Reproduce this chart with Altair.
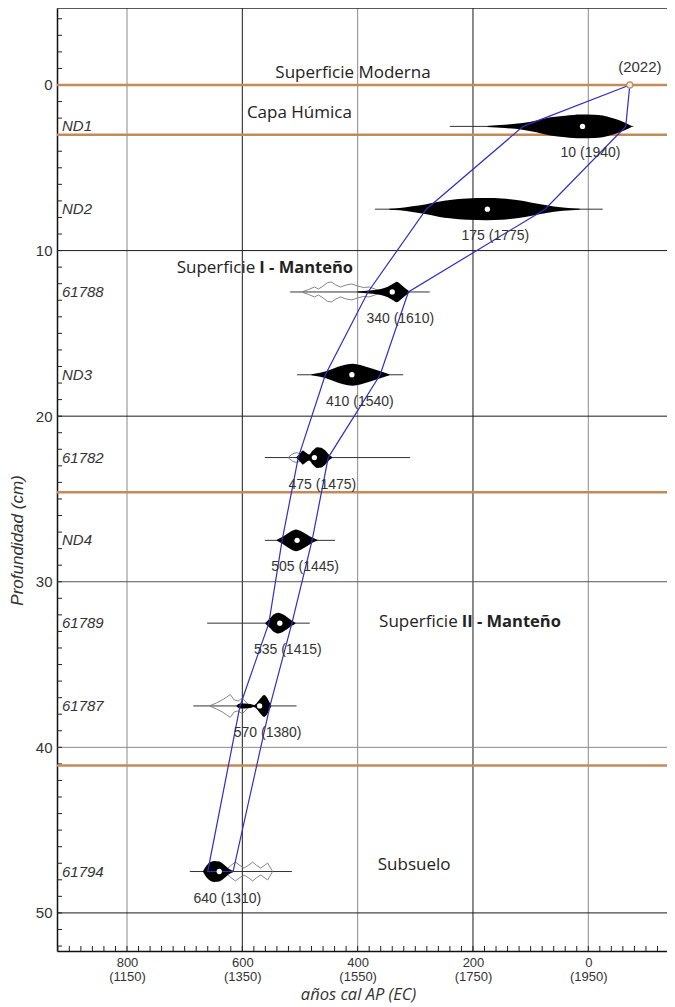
import altair as alt
import pandas as pd

# ---------------- data ----------------
samples = ["ND1", "ND2", "61788", "ND3", "61782", "ND4", "61789", "61787", "61794"]
depths = [2.5, 7.5, 12.5, 17.5, 22.5, 27.5, 32.5, 37.5, 47.5]
medians = [10, 175, 340, 410, 475, 505, 535, 570, 640]
range_lo = [240, 370, 517, 505, 561, 561, 661, 685, 691]
range_hi = [-78, -25, 275, 321, 309, 439, 483, 506, 514]

# posterior (black) distributions: ages (cal BP) and half-heights (cm)
post_ages = {
    "ND1": [175, 145, 114, 90, 66, 40, 12, -10, -25, -40, -55, -65, -75],
    "ND2": [345, 327, 305, 283, 260, 240, 210, 176, 150, 124, 100, 75, 44, 15],
    "61788": [400, 380, 360, 347, 338, 332, 326, 318, 310],
    "ND3": [480, 465, 455, 443, 425, 409, 391, 374, 358, 345],
    "61782": [506, 500, 495, 490, 484, 478, 470, 463, 456, 450, 444],
    "ND4": [540, 532, 524, 516, 507, 497, 488, 480, 470],
    "61789": [560, 552, 545, 538, 530, 522, 515, 508],
    "61787": [610, 604, 595, 586, 580, 575, 568, 562, 558, 554, 550],
    "61794": [668, 662, 655, 648, 640, 632, 624, 615],
}
post_hw = {
    "ND1": [0.03, 0.10, 0.20, 0.36, 0.55, 0.65, 0.72, 0.70, 0.66, 0.52, 0.36, 0.21, 0.03],
    "ND2": [0.03, 0.07, 0.17, 0.29, 0.45, 0.55, 0.64, 0.67, 0.64, 0.55, 0.41, 0.25, 0.10, 0.03],
    "61788": [0.03, 0.09, 0.18, 0.33, 0.51, 0.62, 0.48, 0.24, 0.03],
    "ND3": [0.03, 0.12, 0.21, 0.36, 0.57, 0.66, 0.54, 0.36, 0.18, 0.03],
    "61782": [0.03, 0.24, 0.42, 0.30, 0.18, 0.42, 0.63, 0.60, 0.42, 0.18, 0.03],
    "ND4": [0.03, 0.18, 0.36, 0.54, 0.66, 0.54, 0.36, 0.18, 0.03],
    "61789": [0.03, 0.30, 0.54, 0.63, 0.54, 0.36, 0.18, 0.03],
    "61787": [0.03, 0.15, 0.15, 0.12, 0.06, 0.18, 0.48, 0.66, 0.54, 0.30, 0.03],
    "61794": [0.03, 0.36, 0.57, 0.63, 0.60, 0.42, 0.18, 0.03],
}

# prior / likelihood (outlined) distributions
prior_ages = {
    "61788": [495, 485, 475, 468, 460, 452, 445, 438, 430, 420, 410, 400, 390, 380, 370, 360],
    "61782": [520, 512, 505, 498, 490],
    "61787": [655, 645, 635, 627, 621, 614, 607, 600, 594, 588],
    "61794": [630, 620, 612, 604, 597, 590, 582, 575, 568, 562, 556, 548],
}
prior_hw = {
    "61788": [0.03, 0.15, 0.30, 0.18, 0.36, 0.57, 0.60, 0.42, 0.30, 0.42, 0.48, 0.36, 0.27, 0.30, 0.18, 0.03],
    "61782": [0.03, 0.24, 0.30, 0.18, 0.03],
    "61787": [0.03, 0.18, 0.36, 0.54, 0.69, 0.36, 0.30, 0.48, 0.24, 0.03],
    "61794": [0.03, 0.36, 0.57, 0.36, 0.21, 0.36, 0.57, 0.36, 0.21, 0.36, 0.51, 0.03],
}

# age-depth model envelope (blue)
env_depths = [0, 2.5, 7.5, 12.5, 17.5, 22.5, 27.5, 32.5, 37.5, 47.5]
env_left = [-72, 113, 281, 382, 456, 503, 531, 554, 604, 660]
env_right = [-72, -65, 75, 312, 361, 451, 479, 514, 552, 616]

# unit boundaries (brown lines)
boundaries = [0, 3, 24.6, 41.1]

# annotations
ann_text = ["Superficie Moderna", "Capa Húmica", "Subsuelo"]
ann_age = [408, 501, 302]
ann_depth = [-0.72, 1.69, 47.1]
surf_plain = ["Superficie", "Superficie"]
surf_bold = ["I - Manteño", "II - Manteño"]
surf_age = [574, 223]
surf_depth = [11.05, 32.43]
top_label = ["(2022)"]
top_age = [-72]
top_depth = [0]

x_tick_vals = [800, 600, 400, 200, 0]
y_tick_vals = [0, 10, 20, 30, 40, 50]
x_grid_dark = [600, 200]
x_grid_light = [800, 400, 0]
y_grid_dark = [10, 20, 50]
y_grid_mid = [30]
y_grid_light = [40]

# ---------------- tables ----------------
def dist_table(ages, hws):
    rows = []
    for s, a_list in ages.items():
        d = depths[samples.index(s)]
        for a, h in zip(a_list, hws[s]):
            rows.append({"sample": s, "age": a, "lo": d - h, "hi": d + h})
    return pd.DataFrame(rows)

post_df = dist_table(post_ages, post_hw)
prior_df = dist_table(prior_ages, prior_hw)

samp_df = pd.DataFrame({
    "sample": samples, "depth": depths, "median": medians,
    "lo": range_lo, "hi": range_hi,
    "label": [f"{m} ({1950 - m})" for m in medians],
})

env_rows = []
i = 0
for a, d in zip(env_left, env_depths):
    env_rows.append({"age": a, "depth": d, "i": i}); i += 1
for a, d in zip(env_right[::-1], env_depths[::-1]):
    env_rows.append({"age": a, "depth": d, "i": i}); i += 1
env_df = pd.DataFrame(env_rows)

W, H = 610, 943
xscale = alt.Scale(domain=[-136.5, 921.4], reverse=True, nice=False, zero=False)
yscale = alt.Scale(domain=[-4.65, 52.3], reverse=True, nice=False, zero=False)

xaxis = alt.Axis(
    values=x_tick_vals, title="años cal AP (EC)", grid=False, ticks=False, tickSize=0,
    labelExpr="[datum.label, '(' + (1950 - datum.value) + ')']",
    labelFont="Liberation Sans", labelFontSize=13, labelColor="#333333",
    labelLineHeight=14, labelPadding=5, labelFlush=False,
    domainColor="#111111", domainWidth=1.5,
    titleFont="Open Sans", titleFontStyle="italic", titleFontWeight="normal",
    titleFontSize=16.5, titleColor="#333333", titleX=301, titleY=48,
    titleBaseline="alphabetic", titleAlign="center",
)
yaxis = alt.Axis(
    values=y_tick_vals, title="Profundidad (cm)", grid=False, ticks=False, tickSize=0,
    labelFont="Liberation Sans", labelFontSize=15, labelColor="#333333", labelPadding=5,
    domainColor="#111111", domainWidth=1.5,
    titleFont="Liberation Sans", titleFontStyle="italic", titleFontWeight="normal",
    titleFontSize=17, titleColor="#333333", titleX=-40, titleY=532,
    titleBaseline="middle", titleAlign="center",
)

def X(f):
    return alt.X(f, type="quantitative", scale=xscale, axis=xaxis)

def Y(f):
    return alt.Y(f, type="quantitative", scale=yscale, axis=yaxis)

def vals(name, lst):
    return pd.DataFrame({name: lst})

layers = []

# gridlines
layers.append(alt.Chart(vals("age", x_grid_light)).mark_rule(color="#8a8a8a", strokeWidth=1).encode(x=X("age")))
layers.append(alt.Chart(vals("age", x_grid_dark)).mark_rule(color="#1a1a1a", strokeWidth=1).encode(x=X("age")))
layers.append(alt.Chart(vals("depth", y_grid_light)).mark_rule(color="#8a8a8a", strokeWidth=1).encode(y=Y("depth")))
layers.append(alt.Chart(vals("depth", y_grid_mid)).mark_rule(color="#555555", strokeWidth=1).encode(y=Y("depth")))
layers.append(alt.Chart(vals("depth", y_grid_dark)).mark_rule(color="#1a1a1a", strokeWidth=1).encode(y=Y("depth")))

# minor ticks (inside)
y_minor = list(range(-4, 53))
x_minor = list(range(-120, 921, 20))
layers.append(alt.Chart(vals("depth", y_minor)).mark_rule(color="#222222", strokeWidth=1).encode(
    y=Y("depth"), x=alt.value(0), x2=alt.value(5)))
layers.append(alt.Chart(vals("age", x_minor)).mark_rule(color="#222222", strokeWidth=1).encode(
    x=X("age"), y=alt.value(H), y2=alt.value(H - 5)))

# top border
layers.append(alt.Chart(vals("depth", [0])).mark_rule(color="#222222", strokeWidth=1.5).encode(
    y=alt.value(0), x=alt.value(0), x2=alt.value(W)))

# unit boundaries
layers.append(alt.Chart(vals("depth", boundaries)).mark_rule(color="#c48a5a", strokeWidth=2.5).encode(y=Y("depth")))

# whiskers
layers.append(alt.Chart(samp_df).mark_rule(color="#333333", strokeWidth=1).encode(
    x=X("lo"), x2="hi", y=Y("depth")))

# priors (outlined)
layers.append(alt.Chart(prior_df).mark_area(
    fillOpacity=0, stroke="#777777", strokeWidth=0.9, interpolate="linear").encode(
    x=X("age"), y=Y("lo"), y2="hi", detail="sample"))

# posteriors (black)
layers.append(alt.Chart(post_df).mark_area(
    color="black", interpolate="monotone").encode(
    x=X("age"), y=Y("lo"), y2="hi", detail="sample"))

# envelope
layers.append(alt.Chart(env_df).mark_line(color="#2f2fc2", strokeWidth=1.2).encode(
    x=X("age"), y=Y("depth"), order="i"))

# median dots
layers.append(alt.Chart(samp_df).mark_circle(color="white", size=28, opacity=1).encode(
    x=X("median"), y=Y("depth")))

# median labels
layers.append(alt.Chart(samp_df).mark_text(
    font="Liberation Sans", fontSize=14, color="#333333", dx=8, dy=27, align="center", baseline="middle").encode(
    x=X("median"), y=Y("depth"), text="label"))

# sample labels
layers.append(alt.Chart(samp_df).mark_text(
    font="Liberation Sans", fontSize=15, fontStyle="italic", color="#333333", align="left", baseline="middle").encode(
    x=alt.value(5), y=Y("depth"), text="sample"))

# annotations
ann_df = pd.DataFrame({"text": ann_text, "age": ann_age, "depth": ann_depth})
layers.append(alt.Chart(ann_df).mark_text(
    font="Open Sans", fontSize=17, color="#222222", align="center", baseline="middle").encode(
    x=X("age"), y=Y("depth"), text="text"))

surf_df = pd.DataFrame({"plain": surf_plain, "bold": surf_bold, "age": surf_age, "depth": surf_depth})
layers.append(alt.Chart(surf_df).mark_text(
    font="Open Sans", fontSize=17, color="#222222", align="right", baseline="middle", dx=-2).encode(
    x=X("age"), y=Y("depth"), text="plain"))
layers.append(alt.Chart(surf_df).mark_text(
    font="Open Sans", fontSize=16.5, fontWeight="bold", color="#222222", align="left", baseline="middle", dx=2).encode(
    x=X("age"), y=Y("depth"), text="bold"))

top_df = pd.DataFrame({"text": top_label, "age": top_age, "depth": top_depth})
layers.append(alt.Chart(top_df).mark_point(
    shape="circle", filled=True, fill="#f6ead8", stroke="#b5875c", strokeWidth=1.2, size=40, opacity=1).encode(
    x=X("age"), y=Y("depth")))
layers.append(alt.Chart(top_df).mark_text(
    font="Liberation Sans", fontSize=15, color="#333333", align="center", baseline="middle", dx=10, dy=-18).encode(
    x=X("age"), y=Y("depth"), text="text"))

chart = alt.layer(*layers).properties(
    width=W, height=H,
    autosize=alt.AutoSizeParams(type="none"),
    padding={"left": 49, "top": 0, "right": 0, "bottom": 53},
    background="white",
).configure_view(stroke=None)

chart.save("out.html", embed_options={"renderer": "svg", "actions": False})
